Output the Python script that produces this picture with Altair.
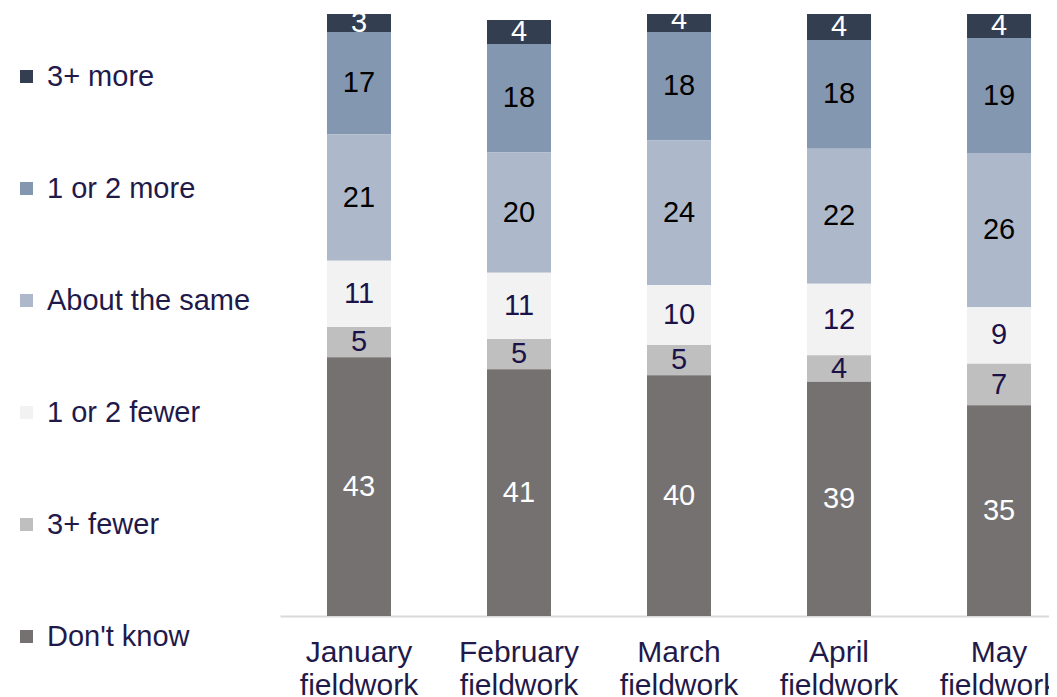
import altair as alt
import pandas as pd

months = ["January fieldwork", "February fieldwork", "March fieldwork",
          "April fieldwork", "May fieldwork"]
categories = ["3+ more", "1 or 2 more", "About the same",
              "1 or 2 fewer", "3+ fewer", "Don't know"]
more3 = [3, 4, 4, 4.3, 4]
more12 = [17, 18, 18, 18.1, 19.1]
same = [21, 20, 24, 22.4, 25.6]
fewer12 = [11, 11, 10, 11.9, 9.4]
fewer3 = [5, 5, 5, 4.4, 6.9]
dont_know = [43, 41, 40, 38.9, 35]

colors = ["#333F50", "#8497B0", "#ADB9CA", "#F2F2F2", "#BFBFBF", "#767171"]
text_colors = ["#FFFFFF", "#000000", "#000000", "#1A1248", "#1A1248", "#FFFFFF"]

series = [more3, more12, same, fewer12, fewer3, dont_know]
rows = []
for ci, (cat, vals) in enumerate(zip(categories, series)):
    for m, v in zip(months, vals):
        rows.append({"month": m, "cat": cat, "value": v,
                     "rank": len(categories) - 1 - ci, "tcol": text_colors[ci]})
df = pd.DataFrame(rows)

FONT = "Liberation Sans"
NAVY = "#1F1A4A"

base = alt.Chart(df).transform_stack(
    stack="value", groupby=["month"], as_=["y0", "y1"],
    sort=[alt.SortField("rank", order="ascending")]
).transform_calculate(mid="(datum.y0 + datum.y1) / 2")

xscale = alt.Scale(range=[0, 777], paddingInner=0.6, paddingOuter=0.228, align=0.644)
x = alt.X("month:N", sort=months, title=None, scale=xscale,
          axis=alt.Axis(labelExpr="split(datum.label, ' ')", labelAngle=0,
                        labelFont=FONT, labelFontSize=30, labelColor=NAVY,
                        labelLineHeight=33, labelPadding=21, ticks=False,
                        domainColor="#D9D9D9", domainWidth=2))
yscale = alt.Scale(domain=[0, 100], nice=False, zero=True)

bars = base.mark_bar(clip=True).encode(
    x=x,
    y=alt.Y("y1:Q", scale=yscale, axis=None),
    y2="y0:Q",
    color=alt.Color("cat:N", scale=alt.Scale(domain=categories, range=colors),
                    legend=alt.Legend(orient="none", legendX=-268, legendY=48,
                                      title=None, symbolType="square",
                                      symbolSize=169, symbolStrokeWidth=0,
                                      labelFont=FONT, labelFontSize=29,
                                      labelColor=NAVY, labelOffset=6,
                                      labelLimit=0,
                                      rowPadding=82, padding=0)),
)

labels = base.mark_text(clip=True, font=FONT, fontSize=29,
                        baseline="middle", align="center").encode(
    x=alt.X("month:N", sort=months),
    y=alt.Y("mid:Q", scale=yscale),
    text=alt.Text("value:Q", format=".0f"),
    color=alt.Color("tcol:N", scale=None),
)

chart = alt.layer(bars, labels).properties(
    width=769, height=602,
    autosize=alt.AutoSizeParams(type="none"),
    padding={"left": 272, "top": 6, "right": 0, "bottom": 81},
).configure_view(stroke=None)

chart.save("out.html", embed_options={"renderer": "svg", "actions": False})
